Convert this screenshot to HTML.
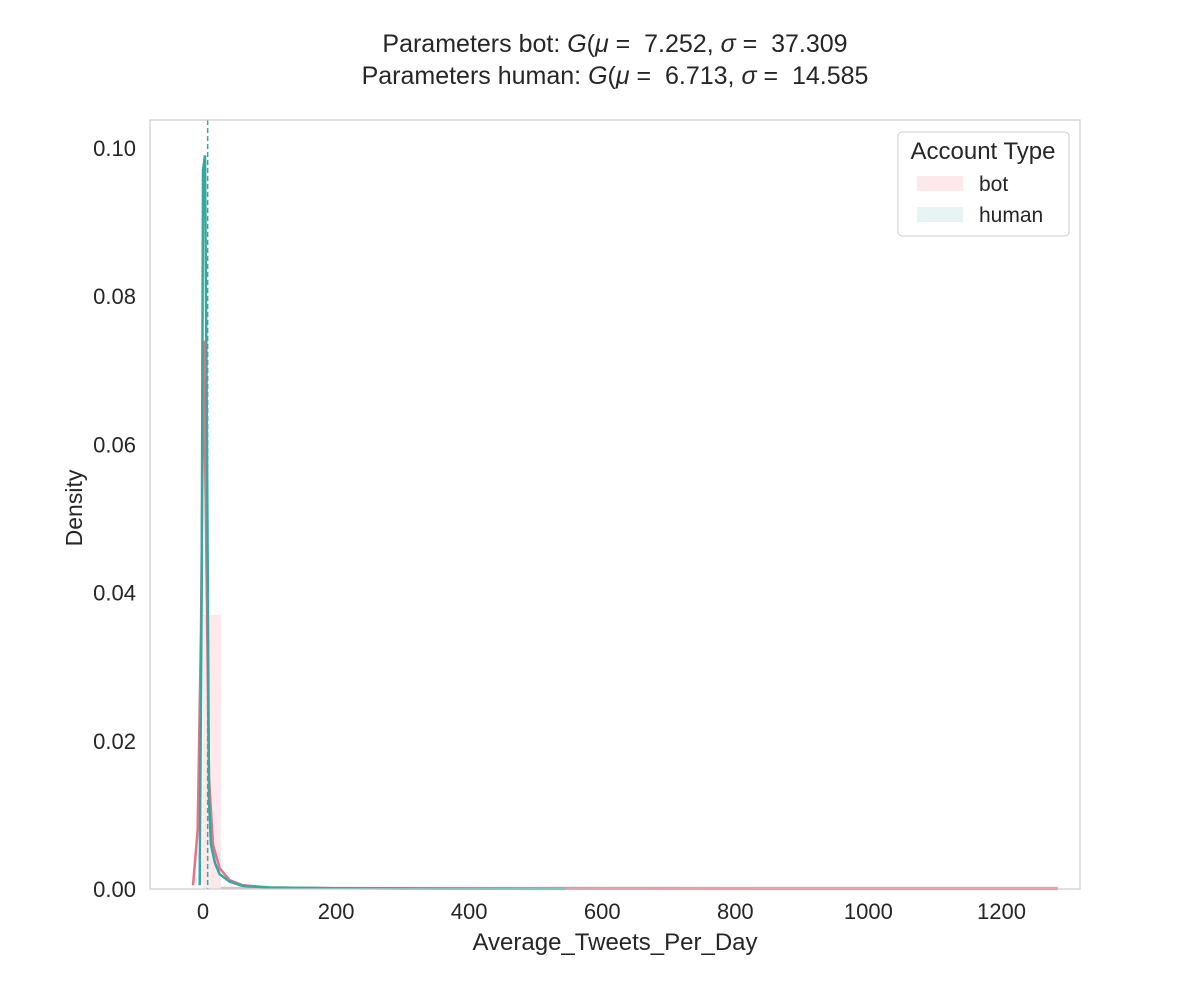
<!DOCTYPE html>
<html><head><meta charset="utf-8"><style>
body{margin:0;background:#fff}
svg text{font-family:"Liberation Sans",sans-serif;fill:#262626}
</style></head><body>
<svg id="chart" width="1200" height="1000">
<text x="615" y="52" font-size="25" text-anchor="middle" xml:space="preserve">Parameters bot: <tspan font-style="italic">G</tspan>(<tspan font-style="italic">μ</tspan> =  7.252, <tspan font-style="italic">σ</tspan> =  37.309</text>
<text x="615" y="84" font-size="25" text-anchor="middle" xml:space="preserve">Parameters human: <tspan font-style="italic">G</tspan>(<tspan font-style="italic">μ</tspan> =  6.713, <tspan font-style="italic">σ</tspan> =  14.585</text>
<g id="plot"></g>
<rect x="150" y="120" width="930" height="769" fill="none" stroke="#ccc" stroke-width="1.2"/>
<text x="615" y="950" font-size="24" text-anchor="middle">Average_Tweets_Per_Day</text>
<text transform="translate(82,508) rotate(-90)" font-size="23" text-anchor="middle">Density</text>
<g>
<rect x="898" y="132" width="171" height="104" rx="4" fill="#fff" stroke="#ccc"/>
<text x="983" y="159" font-size="24" text-anchor="middle">Account Type</text>
<rect x="917" y="176" width="46" height="15" fill="#fde8ec"/>
<text x="979" y="191" font-size="21">bot</text>
<rect x="917" y="207" width="46" height="15" fill="#e6f4f3"/>
<text x="979" y="222" font-size="21">human</text>
</g>
</svg>
<script>
const xTicks=[0,200,400,600,800,1000,1200];
const yTicks=[0,0.02,0.04,0.06,0.08,0.10];
const yTickLabels=["0.00","0.02","0.04","0.06","0.08","0.10"];
const botX=[-15,-8,-3,1,5,9,15,25,40,60,100,200,400,600,900,1285];
const botY=[0.0005,0.008,0.035,0.074,0.045,0.015,0.006,0.0028,0.0012,0.0005,0.0002,0.0001,0.00005,0.00003,0.00002,0.00001];
const humanX=[-5,-2,0,3,6,9,12,18,25,40,60,100,200,350,545];
const humanY=[0.0005,0.04,0.097,0.099,0.06,0.012,0.006,0.0035,0.002,0.001,0.0004,0.0002,0.0001,0.00005,0.00002];
const botHistEdges=[0,27,540,1285];
const botHistHeights=[0.037,0.0003,0.0003];
const meanLine=7;
const sx=v=>203+v*0.6654, sy=v=>889-v*7410;
const NS="http://www.w3.org/2000/svg", g=document.getElementById('plot');
function mk(t,a){const e=document.createElementNS(NS,t);for(const k in a)e.setAttribute(k,a[k]);g.appendChild(e);return e;}
for(let i=0;i<botHistHeights.length;i++){
 const r=mk('rect',{x:sx(botHistEdges[i]),y:sy(botHistHeights[i]),width:sx(botHistEdges[i+1])-sx(botHistEdges[i]),height:889-sy(botHistHeights[i]),fill:i==0?'#fde8ec':'#f3b6c4'});
 
 
}
function pts(X,Y){return X.map((x,i)=>sx(x)+','+sy(Y[i])).join(' ');}
const bl=mk('polyline',{points:pts(botX,botY),fill:'none',stroke:'#e8718a','stroke-width':2.5});


const hl=mk('polyline',{points:pts(humanX,humanY),fill:'none',stroke:'#36a89e','stroke-width':2.5});


const ml=mk('line',{x1:sx(meanLine),x2:sx(meanLine),y1:120,y2:889,stroke:'#36a89e','stroke-width':1.5,'stroke-dasharray':'5,3'});


xTicks.forEach(v=>{const t=mk('text',{x:sx(v),y:919,'font-size':22,'text-anchor':'middle'});t.textContent=v;
 
 });
yTicks.forEach((v,i)=>{const t=mk('text',{x:136,y:sy(v)+8,'font-size':22,'text-anchor':'end'});t.textContent=yTickLabels[i];
 
 });
</script>
</body></html>
